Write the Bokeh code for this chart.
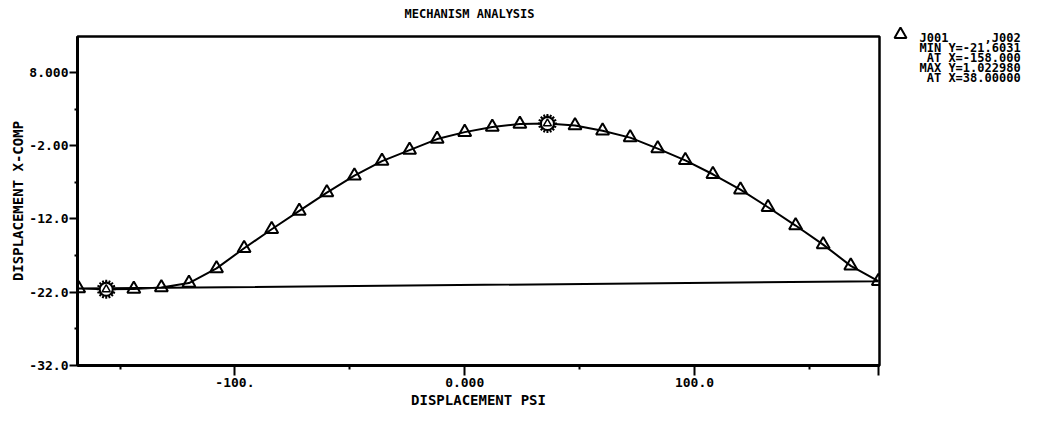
from bokeh.plotting import figure
from bokeh.models import Range1d, FixedTicker
from bokeh.layouts import row, column
from bokeh.core.properties import value
from bokeh.embed import file_html
from bokeh.resources import INLINE

# ---- data ----
psi = [-168, -156, -144, -132, -120, -108, -96, -84, -72, -60, -48, -36, -24, -12, 0,
       12, 24, 36, 48, 60, 72, 84, 96, 108, 120, 132, 144, 156, 168, 180]
xcomp = [-21.50, -21.60, -21.55, -21.35, -20.75, -18.75, -16.0, -13.4, -10.9, -8.4,
         -6.1, -4.1, -2.6, -1.1, -0.15, 0.55, 0.95, 1.023, 0.75, 0.05,
         -0.9, -2.4, -4.0, -5.9, -8.0, -10.4, -12.9, -15.5, -18.4, -20.5]
min_x, min_y = [-156], [-21.6031]
max_x, max_y = [36], [1.02298]

x_ticks = [-100, 0, 100, 180]
x_tick_labels = ["-100.", "0.000", "100.0", ""]
x_minor = [-150, -50, 50, 150]
y_ticks = [-32, -22, -12, -2, 8]
y_tick_labels = ["-32.0", "-22.0", "-12.0", "-2.00", "8.000"]
y_minor = [-27, -17, -7, 3]

title_text = "MECHANISM ANALYSIS"
NB = "\u00a0"
legend_lines = ["J001" + NB * 5 + ",J002", "MIN Y=-21.6031", NB + "AT X=-158.000",
                "MAX Y=1.022980", NB + "AT X=38.00000"]

FONT = "DejaVu Sans Mono"

X0, X1 = -168.5, 180.5
Y0, Y1 = -32.0, 12.9
TH = 20                    # title strip height
H = 417 - TH
BL, BR, BT = 77, 3, 36 - TH
FW, FH = 802, 329
BB = H - BT - FH
W = BL + FW + BR
LW = 1046 - W
OFFX = 1  # observed horizontal page offset of the layout


def blank(width, height, x0, x1, y0, y1):
    f = figure(width=width, height=height, output_backend="svg", toolbar_location=None,
               x_range=Range1d(x0, x1), y_range=Range1d(y0, y1),
               x_axis_type=None, y_axis_type=None, min_border=0)
    f.frame_align = False
    f.grid.visible = False
    f.outline_line_color = None
    f.background_fill_color = "white"
    f.border_fill_color = "white"
    return f


# title strip (page coordinates)
tf = blank(1046, TH, OFFX, OFFX + 1046, TH, 0)
tf.text([405], [13], text=[title_text], text_align="left", text_baseline="middle",
        text_font=value(FONT), text_font_style="bold", text_font_size="12px",
        text_color="black")

p = figure(width=W, height=H, output_backend="svg", toolbar_location=None,
           x_range=Range1d(X0, X1), y_range=Range1d(Y0, Y1),
           min_border_left=BL, min_border_right=BR, min_border_top=BT, min_border_bottom=BB)
p.frame_align = False
p.grid.visible = False
p.outline_line_color = "black"
p.outline_line_width = 2.5
p.background_fill_color = "white"
p.border_fill_color = "white"

# axes
xa = p.xaxis[0]
xa.ticker = FixedTicker(ticks=x_ticks, minor_ticks=x_minor)
xa.major_label_overrides = {t: l for t, l in zip(x_ticks, x_tick_labels)}
ya = p.yaxis[0]
ya.ticker = FixedTicker(ticks=y_ticks, minor_ticks=y_minor)
ya.major_label_overrides = {t: l for t, l in zip(y_ticks, y_tick_labels)}
for ax in (xa, ya):
    ax.axis_line_width = 3
    ax.axis_line_color = "black"
    ax.major_tick_line_width = 2
    ax.minor_tick_line_width = 2
    ax.major_tick_in = 0
    ax.minor_tick_in = 0
    ax.major_label_text_font = FONT
    ax.major_label_text_font_style = "bold"
    ax.major_label_text_font_size = "13px"
    ax.major_label_text_color = "black"
    ax.axis_label_text_font = FONT
    ax.axis_label_text_font_style = "bold"
    ax.axis_label_text_font_size = "14px"
    ax.axis_label_text_color = "black"
xa.major_tick_out = 10
xa.minor_tick_out = 4
xa.major_label_standoff = 2
xa.axis_label = "DISPLACEMENT PSI"
xa.axis_label_standoff = 2
ya.major_tick_out = 8
ya.minor_tick_out = 3
ya.major_label_standoff = 1
ya.axis_label = "DISPLACEMENT X-COMP"
ya.axis_label_standoff = 0

# curve, closed back to its first point (wrap-around)
p.line(psi + [psi[0]], xcomp + [xcomp[0]], line_color="black", line_width=2)
p.scatter(psi, xcomp, marker="triangle", size=13, line_color="black", line_width=2,
          fill_alpha=0)

# min / max star markers
for sx, sy in ((min_x, min_y), (max_x, max_y)):
    p.scatter(sx, sy, marker="asterisk", size=19, line_color="black", line_width=2)
    p.scatter(sx, sy, marker="asterisk", size=19, angle=0.39, line_color="black", line_width=2)
    p.scatter(sx, sy, marker="circle", size=13, line_color="black", line_width=2, fill_color="white")
    p.scatter(sx, sy, marker="triangle", size=8, line_color="black", line_width=1.5, fill_alpha=0)

# legend block in its own panel (page coordinates)
ox = OFFX + W
lg = blank(LW, H, ox, ox + LW, TH + H, TH)
lg.scatter([901], [34], marker="triangle", size=12, line_color="black", line_width=2,
           fill_alpha=0)
lg.text([920] * len(legend_lines), [37 + 10 * i for i in range(len(legend_lines))],
        text=legend_lines, text_align="left", text_baseline="middle",
        text_font=value(FONT), text_font_style="bold", text_font_size="12px",
        text_color="black")

open("out.html", "w").write(file_html(column(tf, row(p, lg)), INLINE))
